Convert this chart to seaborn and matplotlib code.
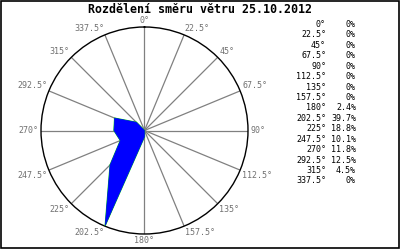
import numpy as np
import matplotlib
matplotlib.use("Agg")
import matplotlib.pyplot as plt
import seaborn as sns
from matplotlib.patches import Rectangle

title = "Rozdělení směru větru 25.10.2012"
directions = [0, 22.5, 45, 67.5, 90, 112.5, 135, 157.5,
              180, 202.5, 225, 247.5, 270, 292.5, 315, 337.5]
direction_labels = ["0°", "22.5°", "45°", "67.5°", "90°", "112.5°", "135°", "157.5°",
                    "180°", "202.5°", "225°", "247.5°", "270°", "292.5°", "315°", "337.5°"]
percent = [0, 0, 0, 0, 0, 0, 0, 0, 2.4, 39.7, 18.8, 10.1, 11.8, 12.5, 4.5, 0]
percent_labels = ["0%", "0%", "0%", "0%", "0%", "0%", "0%", "0%",
                  "2.4%", "39.7%", "18.8%", "10.1%", "11.8%", "12.5%", "4.5%", "0%"]
r_max = 40

sns.set_style("white")
plt.rcParams['font.family'] = ['DejaVu Sans Mono', 'DejaVu Sans']

W, H = 400, 250
fig = plt.figure(figsize=(4, 2.5), dpi=100)
fig.patch.set_facecolor("white")

cx, cy, R = 144.5, 130.5, 103.5
ax = fig.add_axes([(cx - R) / W, (H - cy - R) / H, 2 * R / W, 2 * R / H], projection="polar")
ax.set_theta_zero_location("N")
ax.set_theta_direction(-1)
ax.set_ylim(0, r_max)
ax.set_yticks([])
ax.set_xticks(np.deg2rad(directions))
ax.set_xticklabels([])
ax.xaxis.grid(True, color="#808080", lw=0.9)
ax.yaxis.grid(False)
ax.spines["polar"].set_color("black")
ax.spines["polar"].set_linewidth(1)
ax.set_facecolor("white")

theta = np.deg2rad(directions + [directions[0]])
r = np.array(percent + [percent[0]])
sns.lineplot(x=theta, y=r, sort=False, color="#00dd00", lw=0.9, ax=ax, zorder=3)
ax.fill(theta, r, facecolor="blue", edgecolor="blue", lw=0.4, zorder=4)
ax.set_xlabel("")
ax.set_ylabel("")

for d, lab in zip(directions, direction_labels):
    t = np.deg2rad(d)
    if d == 0 or d == 180:
        ha = "center"
    elif d < 180:
        ha = "left"
    else:
        ha = "right"
    if d == 90 or d == 270:
        va = "center"
    elif d < 90 or d > 270:
        va = "bottom"
    else:
        va = "top"
    ax.text(t, r_max * 1.02, lab, ha=ha, va=va, fontsize=6, color="#707070",
            clip_on=False, zorder=5)

fig.text(0.5, 1 - 9.5 / H, title, ha="center", va="center", fontsize=8.4,
         fontweight="bold", color="black")

y0, dy = 24.5, 10.43
for i, (dl, pl) in enumerate(zip(direction_labels, percent_labels)):
    y = 1 - (y0 + i * dy) / H
    fig.text(326 / W, y, dl, ha="right", va="center", fontsize=6, color="black")
    fig.text(356 / W, y, pl, ha="right", va="center", fontsize=6, color="black")

fig.patches.append(Rectangle((0.5 / W, 1 - 248 / H), 398.5 / W, 247.5 / H,
                             transform=fig.transFigure, fill=False,
                             edgecolor="black", lw=1.2, zorder=10))

fig.savefig("out.png", dpi=100, facecolor="white")
